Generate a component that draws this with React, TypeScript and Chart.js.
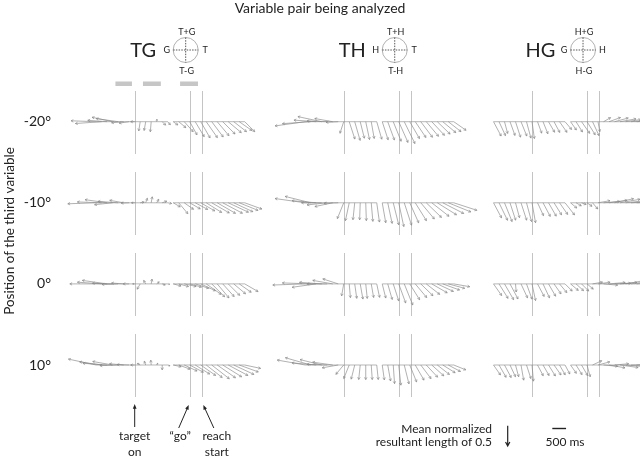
import { useEffect, useRef } from "react";
import { Chart, registerables } from "chart.js";
Chart.register(...registerables);

const FONT = "Lato, 'Open Sans', sans-serif";
const TEXT = "#222";
const ARROW = "#878787";
const EVENT_LINE = "#c4c4c4";

const TITLE = "Variable pair being analyzed";
const Y_TITLE = "Position of the third variable";
const ROW_LABELS = ["-20°", "-10°", "0°", "10°"];
const ROW_Y = [0, -2, -4, -6];
const PAIRS = ["TG", "TH", "HG"];
const ICON_LABELS = [
  ["T+G", "T-G", "G", "T"],
  ["T+H", "T-H", "H", "T"],
  ["H+G", "H-G", "G", "H"],
];

// shared time axis (ms): where each column's target onset sits
const TARGET_MS = [2933, 10531, 17375];
const GO_SHIFT = 2000; // go-aligned segment drawn 2000 ms after target
const REACH_AFTER_GO = 440;
const TIMES_A = [-1400, -1200, -1000, -800, -600, -400, -200, 0, 200, 400, 600, 800, 1000, 1200]; // re target
const TIMES_B = [-600, -400, -200, 0, 200, 400, 600, 800, 1000, 1200, 1400, 1600, 1800, 2000]; // re go
// analysis windows (gray bars above TG): [alignment, start, end]
const WINDOWS: [string, number, number][] = [
  ["target", -700, -100],
  ["target", 300, 950],
  ["go", -350, 300],
];

// arrow direction (deg, 0 = right, 90 = up) and mean normalized resultant length; 14 target-aligned + 14 go-aligned bins
const TG_N20_ANG = [178, 184, 176, 168, 172, 185, 188, 180, -99, -100, -95, 85, -45, -50, -35, -40, -48, -61, -59, -60, -55, -53, -50, -45, -40, -38, -35, -45];
const TG_N20_LEN = [0.62, 0.65, 0.48, 0.52, 0.55, 0.3, 0.25, 0.1, 0.23, 0.22, 0.25, 0.06, 0.12, 0.1, 0.14, 0.23, 0.33, 0.37, 0.43, 0.46, 0.48, 0.47, 0.45, 0.43, 0.42, 0.4, 0.38, 0.35];
const TG_N10_ANG = [182, 178, 172, 186, 176, 170, 182, 180, 10, 70, 80, 60, 20, -10, -30, -50, -35, -30, -28, -30, -32, -30, -30, -28, -25, -25, -22, -20];
const TG_N10_LEN = [0.7, 0.6, 0.55, 0.45, 0.5, 0.35, 0.2, 0.08, 0.1, 0.12, 0.15, 0.1, 0.12, 0.1, 0.2, 0.35, 0.28, 0.3, 0.35, 0.4, 0.45, 0.5, 0.52, 0.55, 0.55, 0.52, 0.5, 0.45];
const TG_0_ANG = [180, 176, 172, 178, 182, 176, 180, 180, -120, 120, 80, 40, -20, -10, -15, -15, -12, -15, -18, -25, -35, -45, -50, -48, -45, -40, -35, -30];
const TG_0_LEN = [0.65, 0.6, 0.62, 0.5, 0.4, 0.3, 0.15, 0.05, 0.15, 0.1, 0.12, 0.08, 0.08, 0.05, 0.2, 0.25, 0.3, 0.3, 0.35, 0.4, 0.45, 0.45, 0.45, 0.42, 0.4, 0.38, 0.36, 0.38];
const TG_P10_ANG = [168, 172, 176, 170, 182, 175, 178, 180, 150, 110, 95, 60, -90, -20, -12, -20, -25, -28, -32, -35, -38, -38, -35, -32, -28, -25, -20, -12];
const TG_P10_LEN = [0.7, 0.55, 0.6, 0.5, 0.45, 0.35, 0.3, 0.1, 0.08, 0.1, 0.12, 0.05, 0.12, 0.06, 0.2, 0.3, 0.35, 0.38, 0.42, 0.45, 0.5, 0.55, 0.55, 0.55, 0.55, 0.55, 0.5, 0.4];

const TH_N20_ANG = [188, 184, 176, 168, 178, 170, 183, -108, -72, -74, -76, -78, -80, -74, -72, -70, -68, -66, -64, -60, -56, -53, -50, -47, -44, -40, -38, -35];
const TH_N20_LEN = [0.75, 0.7, 0.55, 0.6, 0.5, 0.45, 0.3, 0.3, 0.45, 0.48, 0.42, 0.45, 0.42, 0.45, 0.47, 0.48, 0.52, 0.56, 0.6, 0.48, 0.47, 0.48, 0.47, 0.46, 0.44, 0.42, 0.4, 0.37];
const TH_N10_ANG = [172, 166, 175, 180, 186, 192, 182, -112, -102, -96, -92, -88, -85, -82, -80, -78, -76, -78, -72, -66, -58, -50, -44, -38, -32, -27, -22, -18];
const TH_N10_LEN = [0.75, 0.65, 0.6, 0.5, 0.5, 0.45, 0.35, 0.42, 0.45, 0.42, 0.42, 0.44, 0.46, 0.48, 0.5, 0.52, 0.56, 0.6, 0.58, 0.54, 0.52, 0.52, 0.52, 0.54, 0.56, 0.58, 0.6, 0.6];
const TH_0_ANG = [182, 178, 188, 176, 180, 170, 162, -100, -85, -82, -80, -84, -80, -78, -76, -74, -72, -70, -68, -58, -50, -44, -38, -30, -25, -20, -15, -10];
const TH_0_LEN = [0.8, 0.7, 0.6, 0.55, 0.5, 0.5, 0.4, 0.3, 0.34, 0.36, 0.38, 0.36, 0.34, 0.34, 0.36, 0.4, 0.44, 0.5, 0.56, 0.46, 0.44, 0.42, 0.42, 0.44, 0.44, 0.44, 0.42, 0.4];
const TH_P10_ANG = [170, 164, 175, 166, 178, 172, 190, -130, -112, -104, -96, -90, -86, -84, -82, -80, -86, -84, -76, -68, -60, -53, -47, -42, -38, -32, -28, -22];
const TH_P10_LEN = [0.7, 0.65, 0.6, 0.55, 0.5, 0.5, 0.4, 0.3, 0.36, 0.36, 0.36, 0.36, 0.36, 0.36, 0.37, 0.4, 0.46, 0.5, 0.48, 0.45, 0.43, 0.42, 0.41, 0.4, 0.38, 0.36, 0.34, 0.32];

const HG_N20_ANG = [-62, -65, -75, -70, -72, -68, -75, -82, -70, -68, -60, -62, -55, -50, -55, -58, -55, -58, -65, -80, 30, 20, 15, 10, 8, 5, 3, 0];
const HG_N20_LEN = [0.4, 0.38, 0.3, 0.36, 0.4, 0.38, 0.42, 0.42, 0.3, 0.32, 0.3, 0.3, 0.32, 0.25, 0.25, 0.3, 0.35, 0.38, 0.38, 0.25, 0.2, 0.3, 0.35, 0.4, 0.38, 0.35, 0.3, 0.25];
const HG_N10_ANG = [-62, -64, -68, -72, -75, -72, -75, -80, -65, -62, -60, -58, -55, -52, -40, -30, -20, -35, -50, 10, 5, 8, 12, 10, 6, 4, 2, 0];
const HG_N10_LEN = [0.42, 0.48, 0.5, 0.45, 0.38, 0.45, 0.48, 0.5, 0.35, 0.38, 0.38, 0.35, 0.35, 0.38, 0.2, 0.15, 0.12, 0.15, 0.2, 0.3, 0.4, 0.45, 0.48, 0.5, 0.55, 0.5, 0.45, 0.3];
const HG_0_ANG = [-55, -58, -60, -62, -85, -65, -70, -78, -62, -65, -60, -55, -50, -45, -40, -42, -45, -40, 10, 8, -5, 5, 2, 5, 10, 8, 5, 3];
const HG_0_LEN = [0.35, 0.42, 0.45, 0.42, 0.2, 0.38, 0.4, 0.42, 0.35, 0.38, 0.35, 0.3, 0.28, 0.25, 0.25, 0.25, 0.25, 0.2, 0.25, 0.3, 0.35, 0.4, 0.4, 0.42, 0.45, 0.45, 0.42, 0.35];
const HG_P10_ANG = [-55, -60, -62, -65, -75, -80, -72, -85, -62, -60, -58, -55, -60, -62, -55, -58, -60, -75, 25, 15, -5, -10, 5, -8, -5, 0, 3, 0];
const HG_P10_LEN = [0.3, 0.35, 0.35, 0.32, 0.3, 0.38, 0.35, 0.4, 0.3, 0.3, 0.32, 0.3, 0.28, 0.25, 0.25, 0.28, 0.3, 0.3, 0.25, 0.3, 0.35, 0.4, 0.35, 0.45, 0.42, 0.4, 0.38, 0.3];

const PANELS: [number[], number[]][][] = [
  [[TG_N20_ANG, TG_N20_LEN], [TG_N10_ANG, TG_N10_LEN], [TG_0_ANG, TG_0_LEN], [TG_P10_ANG, TG_P10_LEN]],
  [[TH_N20_ANG, TH_N20_LEN], [TH_N10_ANG, TH_N10_LEN], [TH_0_ANG, TH_0_LEN], [TH_P10_ANG, TH_P10_LEN]],
  [[HG_N20_ANG, HG_N20_LEN], [HG_N10_ANG, HG_N10_LEN], [HG_0_ANG, HG_0_LEN], [HG_P10_ANG, HG_P10_LEN]],
];

const SCALE_BAR_MS = 500;
const SCALE_R = 0.5;
const EVENT_TOP = 0.76; // event markers span (resultant units around each row)
const EVENT_BOTTOM = -0.8;

function panelTimes(c: number): number[] {
  return [
    ...TIMES_A.map((t) => TARGET_MS[c] + t),
    ...TIMES_B.map((t) => TARGET_MS[c] + GO_SHIFT + t),
  ];
}

function baselineData() {
  const pts: { x: number; y: number | null }[] = [];
  TARGET_MS.forEach((tm) => {
    ROW_Y.forEach((ry) => {
      pts.push({ x: tm + TIMES_A[0], y: ry }, { x: tm + TIMES_A[TIMES_A.length - 1], y: ry }, { x: tm, y: null });
      pts.push(
        { x: tm + GO_SHIFT + TIMES_B[0], y: ry },
        { x: tm + GO_SHIFT + TIMES_B[TIMES_B.length - 1], y: ry },
        { x: tm, y: null }
      );
    });
  });
  return pts;
}

function drawArrow(ctx: CanvasRenderingContext2D, x0: number, y0: number, x1: number, y1: number, head: number, spread = 0.45) {
  const dx = x1 - x0, dy = y1 - y0;
  const L = Math.hypot(dx, dy);
  if (L < 0.4) return;
  const a = Math.atan2(dy, dx);
  const h = Math.min(head, L * 0.6);
  ctx.beginPath();
  ctx.moveTo(x0, y0);
  ctx.lineTo(x1, y1);
  ctx.moveTo(x1 - h * Math.cos(a - spread), y1 - h * Math.sin(a - spread));
  ctx.lineTo(x1, y1);
  ctx.lineTo(x1 - h * Math.cos(a + spread), y1 - h * Math.sin(a + spread));
  ctx.stroke();
}

function drawFilledArrow(ctx: CanvasRenderingContext2D, x0: number, y0: number, x1: number, y1: number) {
  const a = Math.atan2(y1 - y0, x1 - x0);
  const h = 5, w = 0.38;
  ctx.beginPath();
  ctx.moveTo(x0, y0);
  ctx.lineTo(x1 - (h - 1) * Math.cos(a), y1 - (h - 1) * Math.sin(a));
  ctx.stroke();
  ctx.beginPath();
  ctx.moveTo(x1, y1);
  ctx.lineTo(x1 - h * Math.cos(a - w), y1 - h * Math.sin(a - w));
  ctx.lineTo(x1 - h * Math.cos(a + w), y1 - h * Math.sin(a + w));
  ctx.closePath();
  ctx.fill();
}

const arrowPlugin = {
  id: "arrowField",
  beforeDatasetsDraw(chart: any) {
    const { ctx } = chart;
    const xs = chart.scales.x, ys = chart.scales.y;
    ctx.save();
    ctx.strokeStyle = EVENT_LINE;
    ctx.lineWidth = 1;
    ctx.beginPath();
    TARGET_MS.forEach((tm) => {
      [tm, tm + GO_SHIFT, tm + GO_SHIFT + REACH_AFTER_GO].forEach((ex) => {
        const px = Math.round(xs.getPixelForValue(ex)) + 0.5;
        ROW_Y.forEach((ry) => {
          ctx.moveTo(px, Math.round(ys.getPixelForValue(ry + EVENT_TOP)));
          ctx.lineTo(px, Math.round(ys.getPixelForValue(ry + EVENT_BOTTOM)));
        });
      });
    });
    ctx.stroke();
    ctx.restore();
  },
  afterDatasetsDraw(chart: any) {
    const { ctx } = chart;
    const xs = chart.scales.x, ys = chart.scales.y;
    const unit = ys.getPixelForValue(0) - ys.getPixelForValue(1);
    ctx.save();
    ctx.strokeStyle = ARROW;
    ctx.lineWidth = 0.65;
    PANELS.forEach((col, c) => {
      const times = panelTimes(c);
      col.forEach(([ang, len], r) => {
        times.forEach((t, i) => {
          const bx = xs.getPixelForValue(t);
          const by = ys.getPixelForValue(ROW_Y[r]);
          const a = (ang[i] * Math.PI) / 180;
          const tx = bx + Math.cos(a) * len[i] * unit;
          const ty = ys.getPixelForValue(ROW_Y[r] + Math.sin(a) * len[i]);
          drawArrow(ctx, bx, by, tx, ty, 2.6, 0.5);
        });
      });
    });
    ctx.restore();
  },
  afterDraw(chart: any) {
    const { ctx } = chart;
    const xs = chart.scales.x, ys = chart.scales.y;
    const unit = ys.getPixelForValue(0) - ys.getPixelForValue(1);
    ctx.save();
    ctx.fillStyle = TEXT;
    ctx.textBaseline = "middle";

    // column headers with icon
    PAIRS.forEach((p, c) => {
      const tx = xs.getPixelForValue(TARGET_MS[c]);
      ctx.fillStyle = TEXT;
      ctx.font = `20px ${FONT}`;
      ctx.textAlign = "center";
      ctx.fillText(p, tx + 8.5, 51);
      const cx = tx + 51, cy = 50, rad = 12.5;
      ctx.strokeStyle = "#a8a8a8";
      ctx.lineWidth = 0.9;
      ctx.beginPath();
      ctx.arc(cx, cy, rad, 0, Math.PI * 2);
      ctx.stroke();
      ctx.strokeStyle = "#444";
      ctx.lineWidth = 0.9;
      ctx.setLineDash([1.5, 1.2]);
      ctx.beginPath();
      ctx.moveTo(cx - rad, cy);
      ctx.lineTo(cx + rad, cy);
      ctx.moveTo(cx, cy - rad);
      ctx.lineTo(cx, cy + rad);
      ctx.stroke();
      ctx.setLineDash([]);
      const [top, bot, left, right] = ICON_LABELS[c];
      ctx.font = `9px ${FONT}`;
      ctx.fillText(top, cx + 1, 32);
      ctx.fillText(bot, cx + 1, 71);
      ctx.fillText(left, cx - 19, 50.5);
      ctx.fillText(right, cx + 19.5, 50.5);
    });

    // analysis windows
    ctx.fillStyle = "#c6c6c6";
    WINDOWS.forEach(([al, s, e]) => {
      const base = TARGET_MS[0] + (al === "go" ? GO_SHIFT : 0);
      const x0 = xs.getPixelForValue(base + s), x1 = xs.getPixelForValue(base + e);
      ctx.fillRect(x0, 81.5, x1 - x0, 4.5);
    });

    // y axis title
    ctx.fillStyle = TEXT;
    ctx.save();
    ctx.translate(10, 231);
    ctx.rotate(-Math.PI / 2);
    ctx.font = `13.5px ${FONT}`;
    ctx.textAlign = "center";
    ctx.fillText(Y_TITLE, 0, 0);
    ctx.restore();

    // event annotations below TG
    const tX = xs.getPixelForValue(TARGET_MS[0]);
    const gX = xs.getPixelForValue(TARGET_MS[0] + GO_SHIFT);
    const rX = xs.getPixelForValue(TARGET_MS[0] + GO_SHIFT + REACH_AFTER_GO);
    ctx.strokeStyle = TEXT;
    ctx.fillStyle = TEXT;
    ctx.lineWidth = 1;
    drawFilledArrow(ctx, tX, 427, tX, 404);
    drawFilledArrow(ctx, gX - 11, 428, gX - 1, 405);
    drawFilledArrow(ctx, rX + 12, 428, rX + 1.5, 405);
    ctx.font = `12px ${FONT}`;
    ctx.textAlign = "center";
    ctx.fillText("target", tX, 436);
    ctx.fillText("on", tX, 452);
    ctx.fillText("\u201Cgo\u201D", gX - 9.5, 436);
    ctx.fillText("reach", rX + 15, 436);
    ctx.fillText("start", rX + 15, 452);

    // legend for vector length and time scale
    ctx.textAlign = "right";
    ctx.fillText("Mean normalized", 492, 429);
    ctx.fillText("resultant length of 0.5", 492, 442.5);
    ctx.lineWidth = 1.2;
    drawArrow(ctx, 507.7, 446 - SCALE_R * unit, 507.7, 446, 4.5, 0.5);
    const sb = xs.getPixelForValue(SCALE_BAR_MS) - xs.getPixelForValue(0);
    ctx.lineWidth = 1.4;
    ctx.beginPath();
    ctx.moveTo(552.3, 428.5);
    ctx.lineTo(552.3 + sb, 428.5);
    ctx.stroke();
    ctx.textAlign = "center";
    ctx.fillText("500 ms", 565, 442.5);
    ctx.restore();
  },
};

export default function App() {
  const ref = useRef<HTMLCanvasElement>(null);
  useEffect(() => {
    const chart = new Chart(ref.current as HTMLCanvasElement, {
      type: "scatter",
      data: {
        datasets: [
          {
            data: baselineData() as any,
            showLine: true,
            borderColor: ARROW,
            borderWidth: 0.6,
            pointRadius: 0,
            spanGaps: false,
          },
        ],
      },
      options: {
        animation: false,
        responsive: false,
        events: [],
        layout: { padding: { left: 0, right: 0, top: 0, bottom: 58 } },
        plugins: {
          legend: { display: false },
          tooltip: { enabled: false },
          title: {
            display: true,
            text: TITLE,
            color: TEXT,
            font: { family: FONT, size: 14, weight: "normal" },
            padding: { top: 0, bottom: 69 },
          },
        },
        scales: {
          x: { type: "linear", min: 0, max: 21300, display: false },
          y: {
            type: "linear",
            min: -6.863,
            max: 0.885,
            grid: { display: false, drawTicks: false, tickLength: 0 },
            border: { display: false },
            afterFit: (s: any) => {
              s.width = 54;
            },
            afterBuildTicks: (s: any) => {
              s.ticks = ROW_Y.map((v) => ({ value: v }));
            },
            ticks: {
              autoSkip: false,
              padding: 3,
              color: TEXT,
              font: { family: FONT, size: 14 },
              callback: (_v: any, i: number) => ROW_LABELS[i],
            },
          },
        },
      },
      plugins: [arrowPlugin],
    });
    return () => chart.destroy();
  }, []);
  return (
    <div style={{ position: "fixed", left: 0, top: 0, width: 640, height: 458, background: "#fff" }}>
      <canvas ref={ref} width={640} height={458} style={{ display: "block", width: 640, height: 458 }} />
    </div>
  );
}
